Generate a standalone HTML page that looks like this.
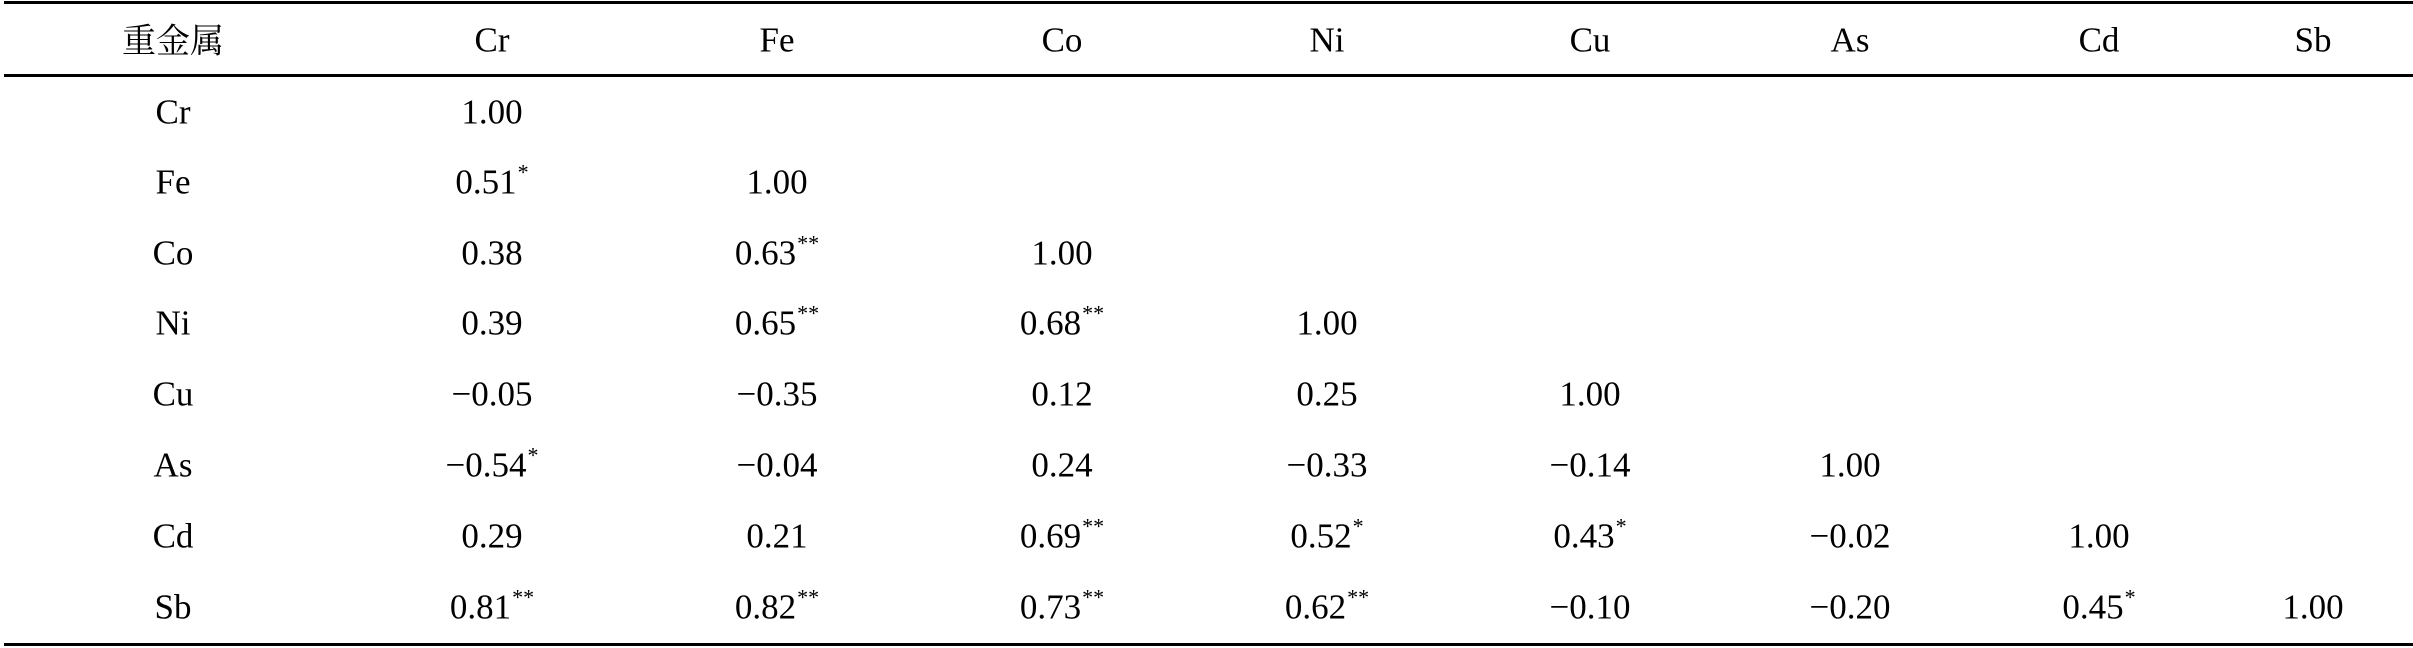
<!DOCTYPE html>
<html><head><meta charset="utf-8"><style>
html,body{margin:0;padding:0;background:#fff;}
body{width:2413px;height:648px;position:relative;overflow:hidden;font-family:"Liberation Serif","Noto Serif CJK SC",serif;font-size:35px;color:#000;}
.l{position:absolute;left:4px;right:0;background:#000;}
.c{position:absolute;transform:translate(-50%,-50%);white-space:nowrap;line-height:1;}
sup{font-size:22px;vertical-align:0;position:relative;top:-14px;margin-left:1px;}
.cjk{font-family:"Noto Serif CJK SC","Noto Sans CJK SC",serif;font-size:34px;}
</style></head><body>
<div class="l" style="top:1px;height:3px"></div>
<div class="l" style="top:74px;height:3px"></div>
<div class="l" style="top:643px;height:3px"></div>
<div id="t"></div>
<script>
var cols=[173,492,777,1062,1327,1590,1850,2099,2313];
var rows=[40,112,182,253,323,394,465,536,607];
var data=[
["<span class=cjk>重金属</span>","Cr","Fe","Co","Ni","Cu","As","Cd","Sb"],
["Cr","1.00"],
["Fe","0.51<sup>*</sup>","1.00"],
["Co","0.38","0.63<sup>**</sup>","1.00"],
["Ni","0.39","0.65<sup>**</sup>","0.68<sup>**</sup>","1.00"],
["Cu","−0.05","−0.35","0.12","0.25","1.00"],
["As","−0.54<sup>*</sup>","−0.04","0.24","−0.33","−0.14","1.00"],
["Cd","0.29","0.21","0.69<sup>**</sup>","0.52<sup>*</sup>","0.43<sup>*</sup>","−0.02","1.00"],
["Sb","0.81<sup>**</sup>","0.82<sup>**</sup>","0.73<sup>**</sup>","0.62<sup>**</sup>","−0.10","−0.20","0.45<sup>*</sup>","1.00"]];
var h="";
for(var r=0;r<data.length;r++)for(var c=0;c<data[r].length;c++){
h+='<div class="c" style="left:'+cols[c]+'px;top:'+rows[r]+'px">'+data[r][c]+'</div>';}
document.getElementById("t").innerHTML=h;
</script>
</body></html>
